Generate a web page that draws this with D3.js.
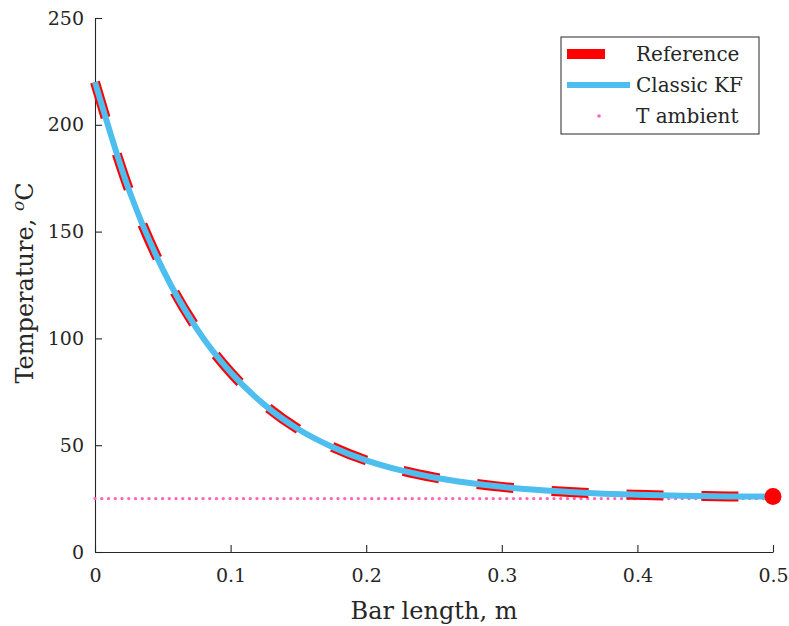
<!DOCTYPE html>
<html><head><meta charset="utf-8">
<script src="https://cdn.jsdelivr.net/npm/d3@7"></script>
<style>body{margin:0;background:#fff}svg{display:block}text{font-family:"DejaVu Serif","Liberation Serif",serif;fill:#262626}</style>
</head><body>
<script>
const xPos = [0,0.025,0.05,0.075,0.1,0.125,0.15,0.175,0.2,0.225,0.25,0.275,0.3,0.325,0.35,0.375,0.4,0.425,0.45,0.475,0.5];
const tempReference = [220,169.6,132.3,104.6,84.1,68.9,57.5,49.2,42.9,38.3,34.9,32.4,30.5,29.1,28.1,27.3,26.8,26.4,26.2,26.0,26.0];
const tempKF = [220,169.6,132.3,104.6,84.1,68.9,57.5,49.2,42.9,38.3,34.9,32.4,30.5,29.1,28.1,27.3,26.8,26.4,26.2,26.0,26.0];
const tAmbient = 25;
const xTicks = [0,0.1,0.2,0.3,0.4,0.5];
const xTickLabels = ["0","0.1","0.2","0.3","0.4","0.5"];
const yTicks = [0,50,100,150,200,250];
const legendLabels = ["Reference","Classic KF","T ambient"];

const W=789,H=626;
const svg=d3.select("body").append("svg").attr("width",W).attr("height",H);
const x=d3.scaleLinear().domain([0,0.5]).range([95,773]);
const y=d3.scaleLinear().domain([0,250]).range([552,18]);
const axCol="#262626";

// axes
const gx=svg.append("g").attr("transform","translate(0,552)")
  .call(d3.axisBottom(x).tickValues(xTicks).tickFormat((d,i)=>xTickLabels[i]).tickSizeInner(-7).tickSizeOuter(0).tickPadding(17));
const gy=svg.append("g").attr("transform","translate(95,0)")
  .call(d3.axisLeft(y).tickValues(yTicks).tickSizeInner(-7).tickSizeOuter(0).tickPadding(11));
[gx,gy].forEach(g=>{
  g.select(".domain").attr("stroke",axCol).attr("stroke-width",1.1);
  g.selectAll(".tick line").attr("stroke",axCol).attr("stroke-width",1.1);
  g.selectAll(".tick text").attr("font-size",19).attr("fill",axCol).style("font-family",'"DejaVu Serif",serif');
});

// ambient
svg.append("path").datum(xPos)
  .attr("d",d3.line().x(d=>x(d)).y(()=>y(tAmbient)))
  .attr("fill","none").attr("stroke","#ff66b3").attr("stroke-width",3.4)
  .attr("stroke-linecap","round").attr("stroke-dasharray","0,6.75");

const line=d3.line().curve(d3.curveMonotoneX);
svg.append("path").attr("d",line(xPos.map((d,i)=>[x(d),y(tempReference[i])])))
  .attr("fill","none").attr("stroke","#ff0000").attr("stroke-width",10).attr("stroke-dasharray","37,38");
svg.append("path").attr("d",line(xPos.map((d,i)=>[x(d),y(tempKF[i])])))
  .attr("fill","none").attr("stroke","#4dbeee").attr("stroke-width",6);
svg.append("circle").attr("cx",x(xPos[xPos.length-1])).attr("cy",y(tempReference[tempReference.length-1]))
  .attr("r",8.5).attr("fill","#ff0000");

// labels
svg.append("text").attr("x",434).attr("y",619).attr("text-anchor","middle").attr("font-size",24).text("Bar length, m");
const yl=svg.append("text").attr("transform","translate(33,283) rotate(-90)").attr("text-anchor","middle").attr("font-size",24);
yl.append("tspan").text("Temperature, ");
yl.append("tspan").attr("font-style","italic").attr("font-size",17).attr("dy",-9).text("o");
yl.append("tspan").attr("dy",9).text("C");

// legend
const lg=svg.append("g");
lg.append("rect").attr("x",561).attr("y",37).attr("width",198).attr("height",97).attr("fill","#fff").attr("stroke",axCol).attr("stroke-width",1);
const rows=[54,85,116];
lg.append("line").attr("x1",567).attr("x2",605).attr("y1",rows[0]).attr("y2",rows[0]).attr("stroke","#ff0000").attr("stroke-width",10);
lg.append("line").attr("x1",567).attr("x2",630).attr("y1",rows[1]).attr("y2",rows[1]).attr("stroke","#4dbeee").attr("stroke-width",6);
lg.append("circle").attr("cx",599).attr("cy",rows[2]).attr("r",1.8).attr("fill","#ff66b3");
legendLabels.forEach((t,i)=>lg.append("text").attr("x",636).attr("y",rows[i]+6.7).attr("font-size",20).text(t));
</script>
</body></html>
